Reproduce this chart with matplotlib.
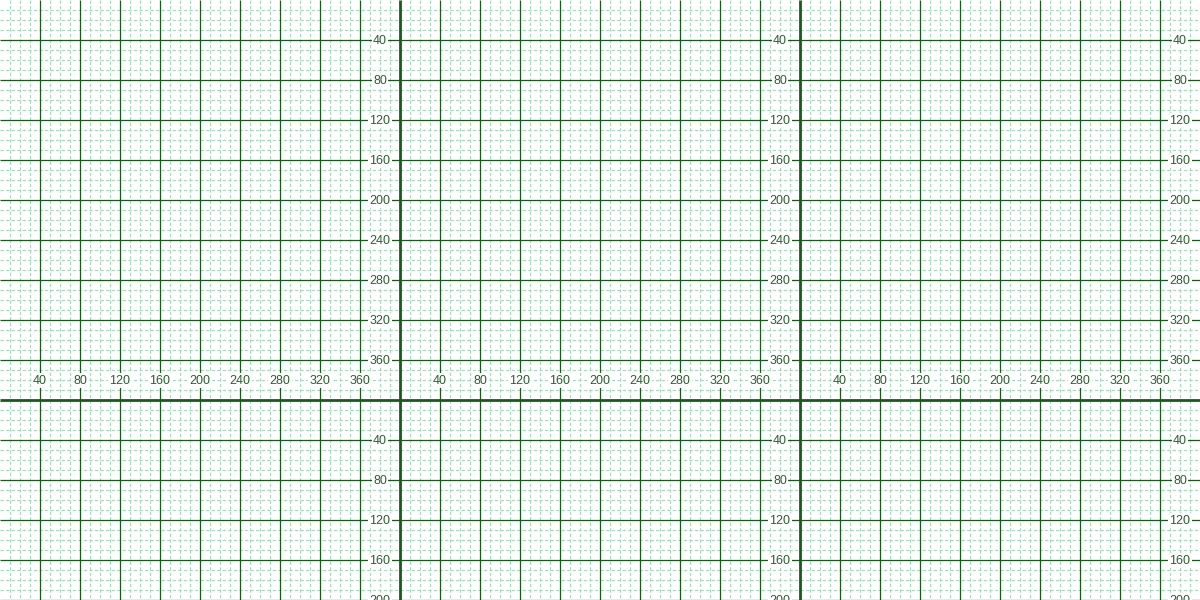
import matplotlib
matplotlib.use("Agg")
import matplotlib.pyplot as plt
import numpy as np

# Graph-paper tile definition
tile_size = 400
tile_cols = [0, 400, 800]
tile_rows = [0, 400]
tick_values = [40, 80, 120, 160, 200, 240, 280, 320, 360]
tick_labels = [str(v) for v in tick_values]
minor_step = 10
major_step = 40

width, height = 1200, 600
fig = plt.figure(figsize=(12, 6), dpi=100)
ax = fig.add_axes([0, 0, 1, 1])
ax.set_xlim(0, width)
ax.set_ylim(height, 0)
ax.axis("off")

minor_color = "#a8d8bc"
major_color = "#175a1b"
text_color = "#26602a"

minor_x = [x for x in range(0, width + 1, minor_step) if x % major_step != 0]
minor_y = [y for y in range(0, height + 1, minor_step) if y % major_step != 0]
ax.vlines(minor_x, 0, height, colors=minor_color, linewidth=0.8,
          linestyles=(0, (3, 2)), zorder=1)
ax.hlines(minor_y, 0, width, colors=minor_color, linewidth=0.8,
          linestyles=(0, (3, 2)), zorder=1)

major_x = [x for x in range(major_step, width, major_step) if x % tile_size != 0]
major_y = [y for y in range(major_step, height + 1, major_step) if y % tile_size != 0]
ax.vlines(major_x, 0, height, colors=major_color, linewidth=0.9, zorder=2)
ax.hlines(major_y, 0, width, colors=major_color, linewidth=0.9, zorder=2)

heavy_x = [c for c in tile_cols if c > 0]
heavy_y = [r for r in tile_rows if r > 0]
ax.vlines(heavy_x, 0, height, colors=major_color, linewidth=2.0, zorder=3)
ax.hlines(heavy_y, 0, width, colors=major_color, linewidth=2.0, zorder=3)

bbox = dict(facecolor="white", edgecolor="none", pad=0.8)
for cx in tile_cols:
    for cy in tile_rows:
        for v, lab in zip(tick_values, tick_labels):
            # y-axis labels along the right column of each tile
            if cy + v <= height + 5:
                ax.text(cx + 380, cy + v + 0.5, lab, ha="center", va="center",
                        fontsize=9, color=text_color, family="Liberation Sans",
                        bbox=bbox, zorder=4, clip_on=True)
            # x-axis labels along the bottom row of each tile
            if cy + 380 <= height:
                ax.text(cx + v, cy + 380.5, lab, ha="center", va="center",
                        fontsize=9, color=text_color, family="Liberation Sans",
                        bbox=bbox, zorder=4, clip_on=True)

fig.savefig("out.png", dpi=100)
